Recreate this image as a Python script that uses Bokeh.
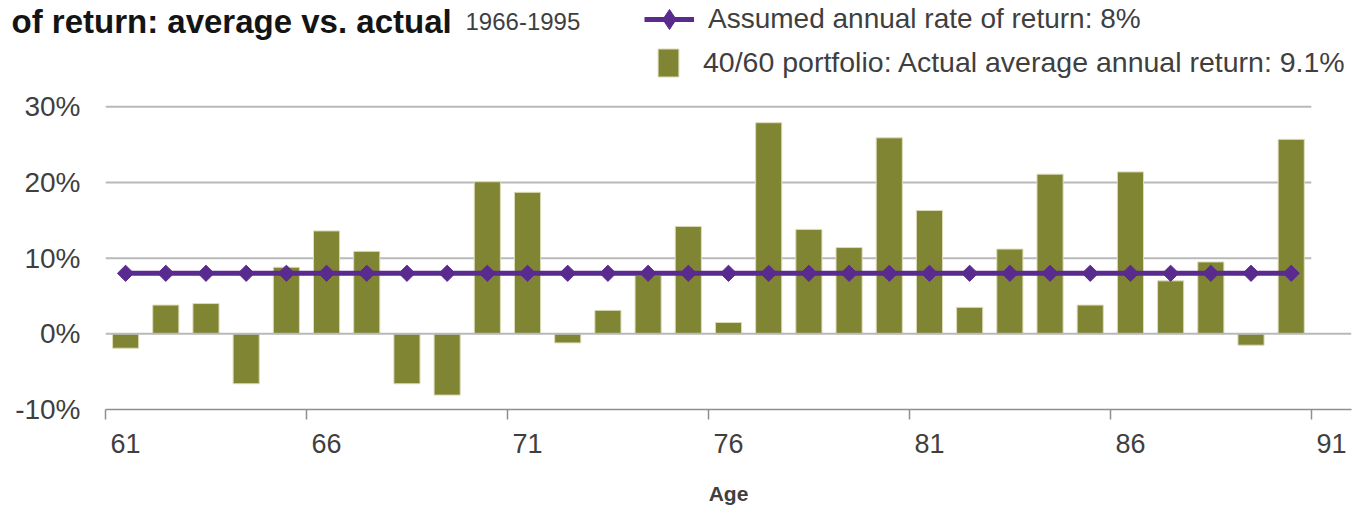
from bokeh.plotting import figure
from bokeh.models import (Range1d, FixedTicker, LinearAxis, Legend, LegendItem,
                          Span, PrintfTickFormatter)
from bokeh.core.properties import value
from bokeh.embed import file_html
from bokeh.resources import INLINE
import numpy as np

# Ages 61-90 correspond to calendar years 1966-1995
ages = list(range(61, 91))
actual_return = [-1.9, 3.8, 4.0, -6.6, 8.8, 13.6, 10.9, -6.6, -8.1, 20.1,
                 18.7, -1.2, 3.1, 7.7, 14.2, 1.5, 27.9, 13.8, 11.4, 25.9,
                 16.3, 3.5, 11.2, 21.1, 3.8, 21.4, 7.0, 9.5, -1.5, 25.7]
assumed_return = [8, 8, 8, 8, 8, 8, 8, 8, 8, 8,
                  8, 8, 8, 8, 8, 8, 8, 8, 8, 8,
                  8, 8, 8, 8, 8, 8, 8, 8, 8, 8]

age_labels = [61, 66, 71, 76, 81, 86, 91]
age_boundaries = [60.5, 65.5, 70.5, 75.5, 80.5, 85.5, 90.5]
pct_ticks = [-10, 0, 10, 20, 30]
grid_levels = [10, 20, 30]

heading = "of return: average vs. actual"
period = "1966-1995"

FONT = "Liberation Sans"
OLIVE = "#808534"
PURPLE = "#5a2b8e"
GRID = "#b9b9b9"
TEXT = "#3f3f3f"

x_range = Range1d(60.5, 91.5)
y_range = Range1d(-10, 44.05)

p = figure(width=1364, height=518, output_backend="svg", toolbar_location=None,
           title=None, min_border_left=105, min_border_right=13,
           min_border_top=0, min_border_bottom=109,
           x_range=x_range, y_range=y_range)
p.outline_line_color = None
p.background_fill_color = "white"
p.border_fill_color = "white"
p.xgrid.grid_line_color = None
p.ygrid.grid_line_color = None

# horizontal gridlines stop at the last populated age; the zero line spans the axis
p.segment(x0=[age_boundaries[0]] * len(grid_levels),
          x1=[age_boundaries[-1]] * len(grid_levels),
          y0=grid_levels, y1=grid_levels, line_color=GRID, line_width=2)
p.add_layout(Span(location=0, dimension="width", line_color=GRID, line_width=2))

bars = p.vbar(x=ages, top=actual_return, bottom=0, width=0.65,
              fill_color=OLIVE, line_color="#dedbb8", line_width=1)

line = p.line(ages, assumed_return, line_color=PURPLE, line_width=5)
# diamond key used by the legend, hidden underneath the rotated squares
key = p.scatter(ages, assumed_return, marker="diamond", size=14,
                fill_color=PURPLE, line_color=PURPLE)
p.scatter(ages, assumed_return, marker="square", angle=np.pi / 4, size=11.5,
          fill_color=PURPLE, line_color=PURPLE)

# y axis: labels only
ya = p.yaxis[0]
ya.ticker = FixedTicker(ticks=pct_ticks)
ya.formatter = PrintfTickFormatter(format="%d%%")
ya.axis_line_color = None
ya.major_tick_line_color = None
ya.minor_tick_line_color = None
ya.major_tick_out = 0
ya.major_tick_in = 0
ya.major_label_standoff = 25
ya.major_label_text_font = FONT
ya.major_label_text_font_size = "28px"
ya.major_label_text_color = TEXT

# x axis line with tick marks between the age groups
xa = p.xaxis[0]
xa.ticker = FixedTicker(ticks=age_boundaries)
xa.axis_line_color = "#8f8f8f"
xa.axis_line_width = 1.5
xa.major_tick_line_color = "#8f8f8f"
xa.major_tick_line_width = 1.5
xa.major_tick_out = 10
xa.major_tick_in = 0
xa.minor_tick_line_color = None
xa.minor_tick_out = 0
xa.major_label_text_font_size = "0px"
xa.major_label_standoff = 0
xa.major_label_overrides = {b: "" for b in age_boundaries}

# age labels centred on their columns
xl = LinearAxis(ticker=FixedTicker(ticks=age_labels))
xl.axis_line_color = None
xl.major_tick_line_color = None
xl.minor_tick_line_color = None
xl.major_tick_out = 0
xl.major_tick_in = 0
xl.minor_tick_out = 0
xl.major_label_standoff = 14
xl.major_label_text_font = FONT
xl.major_label_text_font_size = "27px"
xl.major_label_text_color = TEXT
xl.axis_label = "Age"
xl.axis_label_text_font = FONT
xl.axis_label_text_font_style = "bold"
xl.axis_label_text_font_size = "21px"
xl.axis_label_text_color = TEXT
xl.axis_label_standoff = 26
p.add_layout(xl, "below")

# legend entries
leg1 = Legend(items=[LegendItem(label="Assumed annual rate of return: 8%",
                                renderers=[line, key])],
              location=(539, 365), glyph_width=50, glyph_height=50,
              label_standoff=14, padding=0, margin=0, spacing=0,
              border_line_color=None, background_fill_alpha=0,
              label_text_font=FONT, label_text_font_size="28px",
              label_text_color=TEXT)
leg2 = Legend(items=[LegendItem(label="40/60 portfolio: Actual average annual return: 9.1%",
                                renderers=[bars])],
              location=(550, 329.5), glyph_width=26, glyph_height=35,
              label_standoff=22, padding=0, margin=0, spacing=0,
              border_line_color=None, background_fill_alpha=0,
              label_text_font=FONT, label_text_font_size="28.5px",
              label_text_color=TEXT)
p.add_layout(leg1)
p.add_layout(leg2)

# heading, anchored at the top-left corner of the plot area and offset in pixels;
# drawn on the overlay level so it may run past the left edge of the plot area
p.text(x=[x_range.start], y=[y_range.end], text=[heading],
       x_offset=-94, y_offset=21, text_font=value(FONT),
       text_font_style="bold", text_font_size=value("33px"),
       text_color="#141414", text_baseline="alphabetic", level="overlay")
p.text(x=[x_range.start], y=[y_range.end], text=[period],
       x_offset=360, y_offset=21, text_font=value(FONT),
       text_font_size=value("24px"), text_color=TEXT,
       text_baseline="alphabetic", level="overlay")

open("out.html", "w").write(file_html(p, INLINE))
